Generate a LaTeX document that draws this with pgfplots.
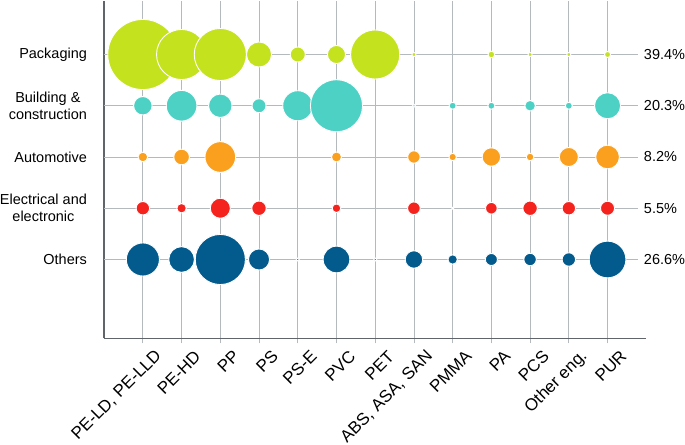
\documentclass[border=0pt]{standalone}
\usepackage{fontspec}
\setmainfont{Liberation Sans}
\usepackage{pgfplots}
\usepackage{pgfplotstable}
\pgfplotsset{compat=1.18}
\definecolor{cpack}{RGB}{197,226,30}
\definecolor{cbuild}{RGB}{78,209,197}
\definecolor{cauto}{RGB}{251,160,30}
\definecolor{celec}{RGB}{245,35,30}
\definecolor{cother}{RGB}{3,90,140}
\definecolor{gridc}{RGB}{180,185,190}
\definecolor{axisc}{RGB}{95,101,107}

% x = polymer index, y = sector row, r = bubble radius (bp)
\pgfplotstableread{
x y r
1 5 35
2 5 25
3 5 26
4 5 12.5
5 5 7.5
6 5 9
7 5 24.5
8 5 2
10 5 3.3
11 5 2
12 5 2
13 5 3
}\packaging
\pgfplotstableread{
x y r
1 4 9.2
2 4 15.3
3 4 11.7
4 4 7
5 4 15
6 4 26
8 4 1.5
9 4 3.5
10 4 3.5
11 4 5.3
12 4 3.5
13 4 13
}\building
\pgfplotstableread{
x y r
1 3 4.8
2 3 7.8
3 3 15.3
6 3 5
8 3 6.2
9 3 3.7
10 3 9.2
11 3 3.8
12 3 9.5
13 3 11.8
}\automotive
\pgfplotstableread{
x y r
1 2 6.7
2 2 4.7
3 2 10
4 2 7.2
6 2 4.3
8 2 6.3
9 2 1
10 2 5.8
11 2 7.2
12 2 6.7
13 2 7
}\electrical
\pgfplotstableread{
x y r
1 1 16.5
2 1 12.8
3 1 25
4 1 10.5
5 1 1.5
6 1 13.3
7 1 1.5
8 1 8.7
9 1 4.7
10 1 6
11 1 6.2
12 1 6.7
13 1 18.3
}\others

\pgfplotsset{
  bubble/.style={scatter, only marks, mark=*, line width=0.9bp,
    scatter/use mapped color={draw=white, fill=#1},
    visualization depends on={\thisrow{r}\as\rad},
    scatter/@pre marker code/.append style={/tikz/mark size=\rad bp}},
  hline/.style={gridc, line width=0.8bp, no marks, forget plot}
}

\begin{document}
\begin{tikzpicture}
\begin{axis}[
  scale only axis,
  width=541bp, height=337bp,
  xmin=0, xmax=14, ymin=-0.54, ymax=6.05,
  clip=false,
  axis x line*=bottom, axis y line*=left,
  axis line style={axisc, line width=1.4bp, -},
  xtick={1,...,13},
  xticklabels={{PE-LD, PE-LLD},PE-HD,PP,PS,PS-E,PVC,PET,{ABS, ASA, SAN},PMMA,PA,PCS,Other eng.,PUR},
  ytick={1,...,5},
  yticklabels={Others,{Electrical and\\electronic},Automotive,{Building \&\\construction},Packaging},
  xmajorgrids,
  grid style={gridc, line width=0.8bp},
  tick align=outside,
  major tick length=5bp,
  x tick style={gridc, line width=0.8bp},
  y tick style={draw=none},
  xticklabel style={font=\fontsize{17}{19}\selectfont, inner sep=0pt, xshift=16bp, yshift=-10bp, rotate=45, anchor=east},
  yticklabel style={font=\fontsize{14.5}{17}\selectfont, align=center, inner sep=0pt, anchor=east, xshift=-12bp},
]
\addplot[hline] coordinates {(0,5) (13.78,5)};
\addplot[hline] coordinates {(0,4) (13.78,4)};
\addplot[hline] coordinates {(0,3) (13.78,3)};
\addplot[hline] coordinates {(0,2) (13.78,2)};
\addplot[hline] coordinates {(0,1) (13.78,1)};
\addplot[bubble=cpack] table[x=x,y=y] {\packaging};
\addplot[bubble=cbuild] table[x=x,y=y] {\building};
\addplot[bubble=cauto] table[x=x,y=y] {\automotive};
\addplot[bubble=celec] table[x=x,y=y] {\electrical};
\addplot[bubble=cother] table[x=x,y=y] {\others};
\begin{scope}[every node/.style={anchor=west, inner sep=0pt, xshift=6bp, font=\fontsize{14.5}{17}\selectfont}]
\node at (axis cs:13.78,5) {39.4\%};
\node at (axis cs:13.78,4) {20.3\%};
\node at (axis cs:13.78,3) {8.2\%};
\node at (axis cs:13.78,2) {5.5\%};
\node at (axis cs:13.78,1) {26.6\%};
\end{scope}
\end{axis}
\end{tikzpicture}
\end{document}
